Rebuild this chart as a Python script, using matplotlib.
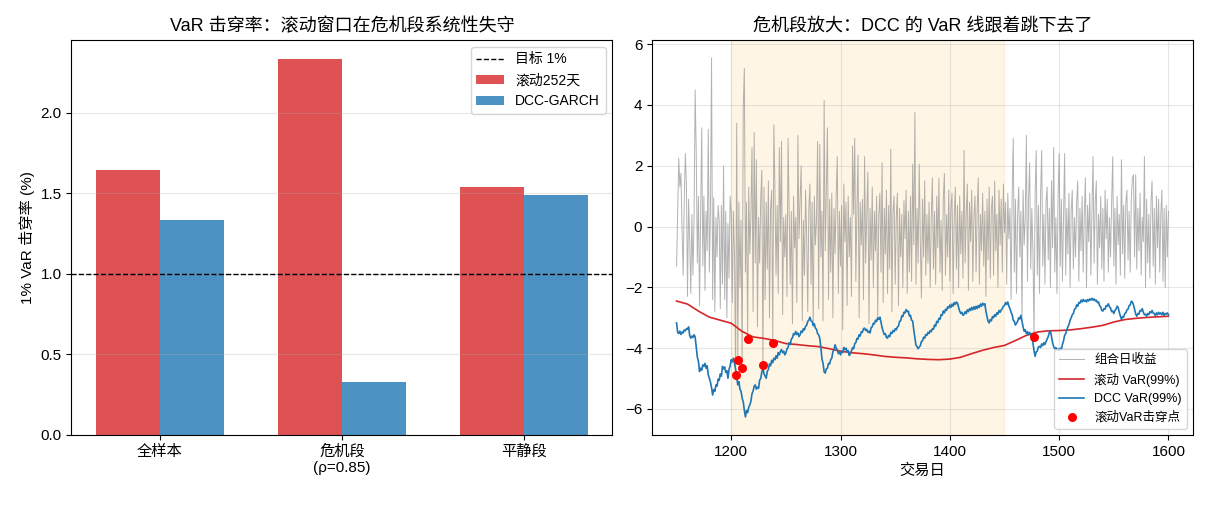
import numpy as np
import matplotlib
matplotlib.use('Agg')
import matplotlib.pyplot as plt

plt.rcParams['font.family'] = ['Liberation Sans', 'Noto Sans CJK SC', 'DejaVu Sans']
plt.rcParams['axes.unicode_minus'] = True
plt.rcParams['xtick.labelsize'] = 11
plt.rcParams['ytick.labelsize'] = 11

# left panel: breach rates (%)
periods = ['全样本', '危机段\n(ρ=0.85)', '平静段']
hit_rolling = [1.644, 2.335, 1.538]
hit_dcc = [1.333, 0.330, 1.488]
target = 1.0

# right panel: daily data, days 1150..1600
days = np.arange(1150, 1601)
ret = [
    -1.3, 0.5, 2.25, 1.3, 1.75, -0.1, -1.6, 0.8, 2.4, 1.4,
    -2.3, 0.9, -0.4, -2.2, 0.4, -1.6, 0.3, 4.5, 2.4, -1.2,
    1.0, -2.6, 0.2, 3.25, -1.3, 1.0, -2.1, 0.5, -0.8, 3.2,
    -1.5, 0.6, 5.55, -2.4, 0.95, -2.8, 0.3, -1.0, 0.7, 0.2,
    -2.7, 0.7, -1.9, 2.0, -2.4, 0.5, -3.0, 0.1, -1.7, 1.0,
    0.4, -2.5, 0.5, -1.0, -4.88, 3.4, -4.40, 0.8, -2.0, 0.2,
    -4.65, 3.9, 5.2, -1.5, 0.8, -3.69, 1.3, -0.9, 0.4, 2.6,
    -2.8, 3.1, -1.2, 2.2, -3.3, 0.3, -1.2, 0.9, 1.85, -4.55,
    1.3, -2.4, 0.8, -1.4, 1.5, -3.0, 0.6, 1.2, -3.82, 3.35,
    1.2, -1.6, 0.7, -2.2, 2.6, -0.5, 2.8, -2.9, 0.3, -1.0,
    0.4, -2.3, 2.9, 0.6, -1.9, 0.5, -3.2, 1.0, -0.7, 0.3,
    -2.5, 3.0, -0.4, 0.9, 2.0, -3.1, 0.2, -1.6, 1.2, -0.3,
    -2.8, 0.6, 1.4, -1.9, 0.8, -3.3, 1.0, -0.6, 0.2, 2.8,
    -2.7, 2.7, -1.0, 0.5, -3.1, 4.15, -0.8, 1.3, 3.25, -2.4,
    0.9, -1.5, 1.1, -3.0, 0.6, -0.9, 1.0, 2.3, -2.2, 0.5,
    -1.3, 0.7, -3.4, 1.4, -0.5, 0.8, -2.6, 1.0, -1.0, 0.3,
    -2.3, 2.65, 0.4, 2.9, -1.8, 0.6, 2.35, -3.0, 0.8, -0.6,
    0.9, -2.4, 2.3, -1.2, 0.4, 1.8, -3.2, 0.6, -1.1, 1.3,
    -2.0, 0.5, -0.8, 1.0, -3.0, 0.4, 1.1, -1.5, 2.1, -2.5,
    0.6, -0.9, 1.2, -2.2, 0.7, -1.4, 2.55, -2.8, 0.5, 1.0,
    -1.9, 0.3, 1.1, -2.6, 0.6, -1.0, 0.4, -2.0, 0.85, -0.4,
    1.2, -2.2, 0.5, -1.5, 1.0, -1.8, 2.05, -0.6, 3.75, -1.9,
    0.6, -1.2, 2.05, -0.5, -2.35, 0.9, -1.0, 1.5, -1.6, 0.4,
    -1.2, 0.8, -2.0, 0.3, 1.6, -1.4, 0.5, -1.9, 1.0, -0.7,
    1.6, -1.5, 0.2, -2.1, 0.9, 1.75, -1.6, 0.4, -1.0, 1.2,
    -1.8, 0.6, 1.1, -2.2, 0.3, 1.3, -1.4, 0.7, -2.0, 1.0,
    -0.9, 0.5, -1.7, 2.5, -1.2, 0.4, 1.4, -2.1, 0.8, -0.5,
    1.2, -1.8, 0.3, 1.0, -1.5, 0.6, 1.6, -1.9, 0.4, -0.8,
    1.1, -1.3, 0.5, -2.3, 0.9, -1.1, 1.3, -1.7, 0.6, 1.0,
    -1.6, 1.5, -0.8, 0.4, -2.0, 1.2, -0.6, 0.9, -1.5, 1.4,
    -0.2, 0.8, -1.9, 1.1, -0.4, 0.6, -2.4, 1.0, 2.9, -1.5,
    0.9, -2.2, 0.4, 1.3, -1.0, 0.5, -3.0, 1.2, -0.6, 0.3,
    3.0, -1.8, 0.9, 2.1, -1.4, 0.6, -0.8, -3.62, 1.0, 2.5,
    -1.6, 0.7, -2.2, 1.0, 2.5, -1.3, 0.4, -1.9, 0.8, 1.3,
    -1.1, 0.6, -2.0, 1.5, -0.7, 2.6, -1.5, 0.3, -2.2, 1.0,
    2.4, -1.3, 0.9, -1.8, 0.4, 2.4, -1.6, 0.6, -0.9, 1.1,
    -2.0, 0.5, 1.2, -1.4, 0.3, -1.0, 0.8, 1.5, -1.8, 0.6,
    -0.8, 1.0, -1.5, 0.4, 1.6, -2.0, 0.7, -0.5, 1.1, -1.6,
    0.5, 2.3, -1.2, 0.8, 1.5, -1.9, 0.4, -0.7, 1.0, -1.4,
    0.6, -1.8, 1.2, -0.4, 0.9, -1.5, 0.3, -1.0, 0.8, 2.3,
    -1.3, 0.6, -1.9, 1.0, -0.6, 0.4, -1.6, 2.2, -0.9, 0.7,
    -1.7, 0.8, 1.2, -1.1, 0.5, -1.5, 0.9, 1.6, 1.7, -1.0,
    1.7, -1.4, 0.6, -0.8, 1.1, -1.6, 0.3, -0.5, 2.3, -2.0,
    0.9, -1.2, 0.4, -1.7, 0.8, 1.5, -1.3, 0.6, -1.9, 1.0,
    -0.7, 0.9, -1.5, 0.4, 1.2, -1.8, 0.6, -2.0, 0.7, -1.0,
    0.5,
]
var_dcc = [
    -3.17, -3.48, -3.52, -3.44, -3.55, -3.47, -3.50, -3.40, -3.43, -3.36,
    -3.38, -3.30, -3.58, -3.67, -3.60, -3.65, -3.56, -3.63, -3.98, -4.30,
    -4.44, -4.77, -4.66, -4.72, -4.55, -4.60, -4.50, -4.66, -4.58, -4.88,
    -4.99, -5.12, -5.30, -5.54, -5.36, -5.42, -5.21, -5.25, -5.02, -5.06,
    -4.85, -4.92, -4.60, -4.68, -4.62, -4.80, -4.74, -4.99, -4.70, -4.58,
    -4.38, -4.45, -4.33, -4.50, -4.70, -4.95, -5.21, -5.10, -5.35, -5.42,
    -5.65, -5.76, -6.05, -6.26, -6.05, -6.12, -5.95, -5.87, -5.75, -5.50,
    -5.42, -5.25, -5.21, -5.35, -5.28, -5.32, -5.05, -5.00, -4.78, -4.66,
    -4.85, -4.92, -4.99, -4.76, -4.70, -4.52, -4.58, -4.40, -4.48, -4.33,
    -4.38, -4.25, -4.33, -4.15, -4.22, -4.10, -4.05, -4.15, -4.10, -4.22,
    -4.16, -4.02, -3.98, -3.82, -3.88, -3.70, -3.66, -3.52, -3.56, -3.45,
    -3.55, -3.50, -3.62, -3.56, -3.44, -3.48, -3.36, -3.40, -3.28, -3.25,
    -3.12, -3.08, -2.98, -3.10, -3.12, -3.25, -3.20, -3.34, -3.38, -3.52,
    -3.56, -3.67, -3.98, -4.35, -4.50, -4.78, -4.82, -4.68, -4.66, -4.50,
    -4.52, -4.38, -4.33, -4.12, -4.05, -3.89, -4.00, -4.05, -4.18, -4.12,
    -4.22, -4.10, -4.15, -3.98, -4.05, -4.00, -4.12, -4.08, -4.24, -4.18,
    -4.10, -3.98, -4.02, -3.85, -3.82, -3.68, -3.70, -3.56, -3.60, -3.46,
    -3.48, -3.36, -3.34, -3.42, -3.38, -3.48, -3.44, -3.50, -3.32, -3.30,
    -3.18, -3.20, -3.08, -3.12, -3.00, -3.05, -2.98, -3.14, -3.32, -3.45,
    -3.55, -3.52, -3.65, -3.67, -3.58, -3.62, -3.48, -3.52, -3.42, -3.46,
    -3.36, -3.40, -3.30, -3.28, -3.12, -3.10, -2.94, -2.96, -2.82, -2.84,
    -2.73, -2.80, -2.78, -2.94, -2.92, -3.08, -3.11, -3.40, -3.65, -3.90,
    -3.95, -4.02, -3.96, -3.92, -3.78, -3.76, -3.64, -3.67, -3.55, -3.58,
    -3.48, -3.52, -3.42, -3.46, -3.36, -3.38, -3.24, -3.28, -3.12, -3.16,
    -3.02, -3.05, -2.90, -2.92, -2.78, -2.84, -2.72, -2.76, -2.64, -2.68,
    -2.58, -2.66, -2.55, -2.62, -2.50, -2.56, -2.48, -2.52, -2.66, -2.78,
    -2.86, -2.82, -2.92, -2.89, -2.80, -2.86, -2.74, -2.80, -2.70, -2.76,
    -2.66, -2.74, -2.64, -2.72, -2.62, -2.70, -2.60, -2.66, -2.55, -2.62,
    -2.52, -2.58, -2.54, -2.78, -2.96, -3.12, -3.17, -3.06, -3.10, -2.96,
    -3.00, -2.90, -2.95, -2.84, -2.88, -2.76, -2.82, -2.74, -2.70, -2.62,
    -2.60, -2.50, -2.56, -2.48, -2.62, -2.70, -2.82, -2.90, -3.08, -3.12,
    -3.24, -3.18, -3.12, -3.00, -3.04, -2.92, -3.12, -3.30, -3.44, -3.40,
    -3.52, -3.46, -3.55, -3.48, -3.58, -3.66, -3.82, -4.08, -4.27, -4.12,
    -4.10, -3.96, -3.94, -3.98, -3.86, -3.92, -3.82, -3.88, -3.78, -3.70,
    -3.62, -3.48, -3.44, -3.62, -3.82, -3.95, -4.02, -3.98, -4.06, -4.02,
    -4.08, -4.00, -4.05, -3.88, -3.76, -3.58, -3.52, -3.40, -3.30, -3.22,
    -3.08, -3.00, -2.90, -2.86, -2.72, -2.70, -2.58, -2.62, -2.50, -2.52,
    -2.42, -2.48, -2.40, -2.46, -2.42, -2.48, -2.40, -2.45, -2.38, -2.42,
    -2.36, -2.42, -2.38, -2.45, -2.42, -2.50, -2.48, -2.60, -2.64, -2.76,
    -2.78, -2.70, -2.72, -2.60, -2.62, -2.54, -2.64, -2.68, -2.80, -2.78,
    -2.86, -2.76, -2.72, -2.62, -2.66, -2.82, -2.94, -3.06, -2.96, -2.98,
    -2.86, -2.84, -2.74, -2.72, -2.60, -2.58, -2.46, -2.48, -2.58, -2.72,
    -2.88, -2.95, -2.86, -2.88, -2.76, -2.78, -2.70, -2.82, -2.90, -2.88,
    -2.95, -2.86, -2.90, -2.80, -2.84, -2.76, -2.84, -2.86, -2.94, -2.84,
    -2.90, -2.82, -2.88, -2.84, -2.90, -2.82, -2.92, -2.86, -2.88, -2.84,
    -2.90,
]
# rolling 252-day VaR, read every 10 days
roll_days = np.arange(1150, 1601, 10)
var_roll = [
    -2.45, -2.55, -2.78, -2.98, -3.08, -3.18, -3.45, -3.63, -3.68, -3.75,
    -3.85, -3.88, -3.92, -3.95, -4.02, -4.10, -4.15, -4.18, -4.22, -4.27,
    -4.30, -4.32, -4.35, -4.37, -4.38, -4.36, -4.30, -4.18, -4.07, -3.98,
    -3.91, -3.75, -3.58, -3.47, -3.43, -3.42, -3.40, -3.36, -3.31, -3.25,
    -3.14, -3.06, -3.02, -2.99, -2.97, -2.95,
]
breach_days = [1204, 1206, 1210, 1215, 1229, 1238, 1477]
crisis = (1200, 1450)

ret = np.array(ret)
var_dcc = np.array(var_dcc)
breach_vals = ret[np.array(breach_days) - days[0]]

fig, (ax1, ax2) = plt.subplots(1, 2, figsize=(12.1, 5.05), dpi=100)
fig.subplots_adjust(left=0.059, right=0.986, top=0.921, bottom=0.139, wspace=0.073)

# ---- left: bars
x = np.arange(len(periods))
w = 0.35
ax1.axhline(target, color='black', ls='--', lw=1, label='目标 1%')
ax1.bar(x - w/2, hit_rolling, w, color='tab:red', alpha=0.8, label='滚动252天')
ax1.bar(x + w/2, hit_dcc, w, color='tab:blue', alpha=0.8, label='DCC-GARCH')
ax1.set_xticks(x)
ax1.set_xticklabels(periods)
ax1.set_ylabel('1% VaR 击穿率 (%)', fontsize=11)
ax1.set_title('VaR 击穿率：滚动窗口在危机段系统性失守', fontsize=13)
ax1.grid(axis='y', alpha=0.3)
ax1.legend(loc='upper right', fontsize=10)

# ---- right: time series
ax2.axvspan(crisis[0], crisis[1], color='orange', alpha=0.1)
ax2.plot(days, ret, color='gray', lw=0.7, alpha=0.6, label='组合日收益')
ax2.plot(roll_days, var_roll, color='tab:red', lw=1.2, label='滚动 VaR(99%)')
ax2.plot(days, var_dcc, color='tab:blue', lw=1.2, label='DCC VaR(99%)')
ax2.scatter(breach_days, breach_vals, color='red', s=30, zorder=5, label='滚动VaR击穿点')
ax2.set_xlabel('交易日', fontsize=11)
ax2.set_title('危机段放大：DCC 的 VaR 线跟着跳下去了', fontsize=13)
ax2.grid(alpha=0.3)
ax2.legend(loc='lower right', fontsize=9)

plt.savefig('out.png')
